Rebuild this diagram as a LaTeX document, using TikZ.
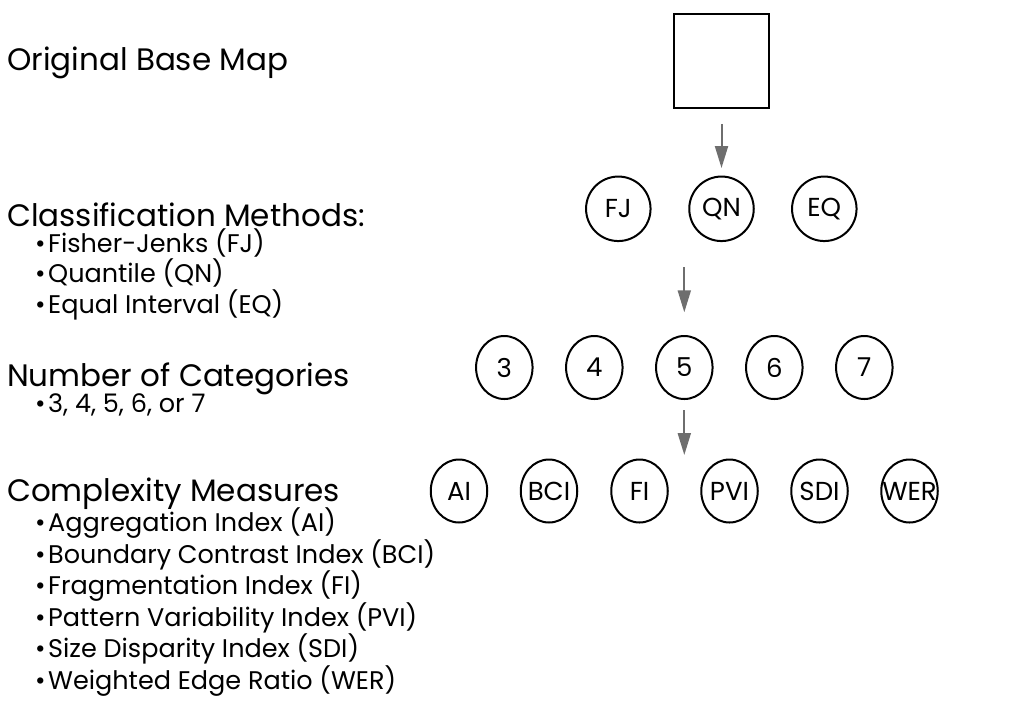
\documentclass[tikz,border=0pt]{standalone}
\usepackage{fontspec}
\setmainfont{Poppins}
\usetikzlibrary{arrows.meta,shapes.geometric}
\definecolor{arrgray}{RGB}{110,110,110}
\begin{document}
\begin{tikzpicture}[x=1pt,y=-1pt,
  head/.style={font=\fontsize{31}{31}\selectfont, anchor=base west, inner sep=0},
  item/.style={font=\fontsize{25.5}{25.5}\selectfont, anchor=base west, inner sep=0},
  box/.style={draw, line width=2.3pt, minimum width=95pt, minimum height=94pt, inner sep=0},
  bigc/.style={draw, circle, line width=2pt, minimum size=64.5pt, inner sep=0, font=\fontsize{26}{26}\selectfont},
  ov/.style={draw, ellipse, line width=2pt, minimum width=56.5pt, minimum height=63pt, inner sep=0, font=\fontsize{26}{26}\selectfont},
  arr/.style={draw=arrgray, line width=2pt, -{Triangle[length=22pt,width=13pt]}}]
\useasboundingbox (0,0) rectangle (1016,702);
% left labels
\node[head] (h1) at (7,70) {Original Base Map};
\node[head] (h2) at (7,226.5) {Classification Methods:};
\node[item] (b1) at (35,252.5) {•\kern2.5pt Fisher-Jenks (FJ)};
\node[item] (b2) at (35,282.5) {•\kern2.5pt Quantile (QN)};
\node[item] (b3) at (35,313) {•\kern2.5pt Equal Interval (EQ)};
\node[head] (h3) at (7,386.5) {Number of Categories};
\node[item] (b4) at (35,412) {•\kern2.5pt 3, 4, 5, 6, or 7};
\node[head] (h4) at (7,501.5) {Complexity Measures};
\node[item] (c1) at (35,531.5) {•\kern2.5pt Aggregation Index (AI)};
\node[item] (c2) at (35,563) {•\kern2.5pt Boundary Contrast Index (BCI)};
\node[item] (c3) at (35,594.5) {•\kern2.5pt Fragmentation Index (FI)};
\node[item] (c4) at (35,626) {•\kern2.5pt Pattern Variability Index (PVI)};
\node[item] (c5) at (35,657.5) {•\kern2.5pt Size Disparity Index (SDI)};
\node[item] (c6) at (35,689) {•\kern2.5pt Weighted Edge Ratio (WER)};
% diagram
\node[box] (sq) at (721.5,61.3) {};
\node[bigc] (fj) at (618.3,208.8) {FJ};
\node[bigc] (qn) at (721.5,208.8) {QN};
\node[bigc] (eq) at (824.3,208.8) {EQ};
\node[ov] (n3) at (504.3,367.5) {3};
\node[ov] (n4) at (594.3,367.5) {4};
\node[ov] (n5) at (684.3,367.5) {5};
\node[ov] (n6) at (774.3,367.5) {6};
\node[ov] (n7) at (864.3,367.5) {7};
\node[ov] (ai) at (459,491) {AI};
\node[ov] (bci) at (549,491) {\makebox[0pt]{BCI}};
\node[ov] (fi) at (639.5,491) {FI};
\node[ov] (pvi) at (729.5,491) {\makebox[0pt]{PVI}};
\node[ov] (sdi) at (819.5,491) {\makebox[0pt]{SDI}};
\node[ov] (wer) at (909.5,491) {\makebox[0pt]{WER}};
\coordinate (a2s) at (684.3,267.3);
\coordinate (a3e) at (684.3,455);
\draw[arr, shorten <=14.4pt, shorten >=7.5pt] (sq.south) -- (qn.north);
\draw[arr, shorten >=22.7pt] (a2s) -- (n5.north);
\draw[arr, shorten <=10pt] (n5.south) -- (a3e);
\end{tikzpicture}
\end{document}
